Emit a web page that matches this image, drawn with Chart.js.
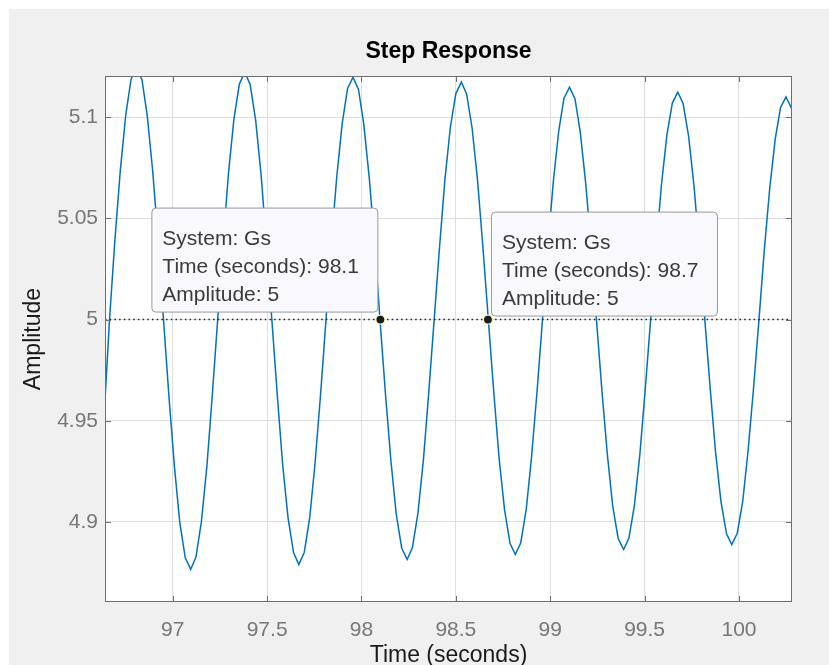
<!DOCTYPE html>
<html>
<head>
<meta charset="utf-8">
<title>Step Response</title>
<script src="https://cdn.jsdelivr.net/npm/chart.js@4.4.1/dist/chart.umd.min.js"></script>
<style>
  html, body { margin: 0; padding: 0; background: #fff; }
  #wrap { position: absolute; left: 9px; top: 9px; width: 820px; height: 656px; background: #f0f0f0; }
  canvas { display: block; }
</style>
</head>
<body>
<div id="wrap"><canvas id="stepChart" width="820" height="656"></canvas></div>
<script>
// step response of Gs, sampled output (seconds / amplitude)
const times = [
  96.607, 96.636, 96.665, 96.693, 96.722, 96.751, 96.779,
  96.808, 96.837, 96.865, 96.894, 96.923, 96.951, 96.980, 97.009, 97.037, 97.066,
  97.095, 97.123, 97.152, 97.181, 97.209, 97.238, 97.267, 97.295, 97.324, 97.353,
  97.382, 97.410, 97.439, 97.468, 97.496, 97.525, 97.554, 97.582, 97.611, 97.640,
  97.668, 97.697, 97.726, 97.754, 97.783, 97.812, 97.840, 97.869, 97.898, 97.926,
  97.955, 97.984, 98.012, 98.041, 98.070, 98.098, 98.127, 98.156, 98.184, 98.213,
  98.242, 98.270, 98.299, 98.328, 98.356, 98.385, 98.414, 98.442, 98.471, 98.500,
  98.529, 98.557, 98.586, 98.615, 98.643, 98.672, 98.701, 98.729, 98.758, 98.787,
  98.815, 98.844, 98.873, 98.901, 98.930, 98.959, 98.987, 99.016, 99.045, 99.073,
  99.102, 99.131, 99.159, 99.188, 99.217, 99.245, 99.274, 99.303, 99.331, 99.360,
  99.389, 99.417, 99.446, 99.475, 99.503, 99.532, 99.561, 99.589, 99.618, 99.647,
  99.676, 99.704, 99.733, 99.762, 99.790, 99.819, 99.848, 99.876, 99.905, 99.934,
  99.962, 99.991, 100.020, 100.048, 100.077, 100.106, 100.134, 100.163, 100.192, 100.220,
  100.249, 100.278, 100.306
];
const amplitude = [
  4.9262, 4.9520, 5.0000, 5.0387, 5.0736, 5.1011, 5.1188,
  5.1248, 5.1185, 5.1007, 5.0731, 5.0384, 5.0000, 4.9617, 4.9272, 4.8999, 4.8824,
  4.8765, 4.8826, 4.9003, 4.9276, 4.9620, 5.0000, 5.0379, 5.0721, 5.0991, 5.1164,
  5.1223, 5.1162, 5.0987, 5.0717, 5.0376, 5.0000, 4.9624, 4.9286, 4.9019, 4.8848,
  4.8789, 4.8850, 4.9023, 4.9291, 4.9627, 5.0000, 5.0372, 5.0707, 5.0971, 5.1141,
  5.1198, 5.1138, 5.0967, 5.0702, 5.0369, 5.0000, 4.9632, 4.9301, 4.9039, 4.8871,
  4.8814, 4.8873, 4.9043, 4.9305, 4.9635, 5.0000, 5.0364, 5.0692, 5.0952, 5.1117,
  5.1174, 5.1115, 5.0947, 5.0688, 5.0361, 5.0000, 4.9640, 4.9315, 4.9059, 4.8894,
  4.8839, 4.8897, 4.9063, 4.9320, 4.9643, 5.0000, 5.0357, 5.0678, 5.0932, 5.1094,
  5.1149, 5.1092, 5.0928, 5.0673, 5.0354, 5.0000, 4.9647, 4.9330, 4.9078, 4.8918,
  4.8863, 4.8920, 4.9082, 4.9334, 4.9650, 5.0000, 5.0349, 5.0663, 5.0912, 5.1070,
  5.1124, 5.1068, 5.0908, 5.0659, 5.0346, 5.0000, 4.9655, 4.9344, 4.9098, 4.8941,
  4.8888, 4.8944, 4.9102, 4.9349, 4.9658, 5.0000, 5.0341, 5.0649, 5.0892, 5.1047,
  5.1100, 5.1045, 5.0888
];
const steadyState = 5;

const xLimits = [96.641, 100.281];
const yLimits = [4.8604, 5.1204];
const xTickValues = [97, 97.5, 98, 98.5, 99, 99.5, 100];
const yTickValues = [4.9, 4.95, 5, 5.05, 5.1];

// data tips pinned on the response
const systemName = "Gs";
const tipTimes = [98.1, 98.67];
const tipAmplitudes = [5, 5];

const FONT = "'Liberation Sans', Arial, Helvetica, sans-serif";
const fmt = v => String(Number(v.toFixed(1)));

function roundRect(ctx, x, y, w, h, r) {
    ctx.beginPath();
    ctx.moveTo(x + r, y);
    ctx.lineTo(x + w - r, y);
    ctx.quadraticCurveTo(x + w, y, x + w, y + r);
    ctx.lineTo(x + w, y + h - r);
    ctx.quadraticCurveTo(x + w, y + h, x + w - r, y + h);
    ctx.lineTo(x + r, y + h);
    ctx.quadraticCurveTo(x, y + h, x, y + h - r);
    ctx.lineTo(x, y + r);
    ctx.quadraticCurveTo(x, y, x + r, y);
    ctx.closePath();
}

const matlabAxes = {
    id: "matlabAxes",
    beforeDraw(chart) {
        const { ctx, chartArea: a } = chart;
        ctx.save();
        ctx.fillStyle = "#ffffff";
        ctx.fillRect(a.left, a.top, a.right - a.left, a.bottom - a.top);
        ctx.restore();
    },
    afterDatasetDraw(chart, args) {
        // tip boxes go above the curve but below the tip markers
        if (args.index !== 1) return;
        const { ctx } = chart;
        const xs = chart.scales.x, ys = chart.scales.y;
        const w = 226, h = 104;
        ctx.save();
        tipTimes.forEach((t, i) => {
            const px = xs.getPixelForValue(t);
            const py = ys.getPixelForValue(tipAmplitudes[i]);
            const left = i === 0 ? px - 3 - w : px + 3;
            const top = i === 0 ? py - 8 - h : py - 4 - h;
            roundRect(ctx, left + 0.5, top + 0.5, w, h, 4);
            ctx.fillStyle = "#f8f8fd";
            ctx.fill();
            ctx.strokeStyle = "#9a9a9a";
            ctx.lineWidth = 1;
            ctx.stroke();
            ctx.fillStyle = "#3a3a3a";
            ctx.font = "21px " + FONT;
            ctx.textAlign = "left";
            ctx.textBaseline = "alphabetic";
            const lines = [
                "System: " + systemName,
                "Time (seconds): " + fmt(t),
                "Amplitude: " + fmt(tipAmplitudes[i])
            ];
            lines.forEach((s, k) => ctx.fillText(s, left + 11, top + 37 + k * 28));
        });
        ctx.restore();
    },
    afterDraw(chart) {
        const { ctx, chartArea: a } = chart;
        const xs = chart.scales.x, ys = chart.scales.y;
        ctx.save();
        // box around the axes with inward ticks on every side
        ctx.strokeStyle = "#6f6f6f";
        ctx.lineWidth = 1;
        ctx.strokeRect(a.left + 0.5, a.top + 0.5, a.right - a.left - 1, a.bottom - a.top - 1);
        ctx.beginPath();
        xTickValues.forEach(v => {
            const x = Math.round(xs.getPixelForValue(v)) + 0.5;
            ctx.moveTo(x, a.bottom); ctx.lineTo(x, a.bottom - 6);
            ctx.moveTo(x, a.top); ctx.lineTo(x, a.top + 6);
        });
        yTickValues.forEach(v => {
            const y = Math.round(ys.getPixelForValue(v)) + 0.5;
            ctx.moveTo(a.left, y); ctx.lineTo(a.left + 6, y);
            ctx.moveTo(a.right, y); ctx.lineTo(a.right - 6, y);
        });
        ctx.stroke();
        // title, centred over the axes
        ctx.fillStyle = "#000";
        ctx.font = "bold 23px " + FONT;
        ctx.textAlign = "center";
        ctx.textBaseline = "alphabetic";
        ctx.fillText("Step Response", (a.left + a.right) / 2, 49);
        ctx.restore();
    }
};

const tickFont = { family: FONT, size: 21 };
const labelFont = { family: FONT, size: 23, lineHeight: 1 };

new Chart(document.getElementById("stepChart"), {
    type: "line",
    data: {
        datasets: [
            {
                label: "tips",
                data: tipTimes.map((t, i) => ({ x: t, y: tipAmplitudes[i] })),
                showLine: false,
                pointRadius: 4.5,
                pointBackgroundColor: "#1c1c1c",
                pointBorderColor: "#f3f0b5",
                pointBorderWidth: 1.2,
                order: 1
            },
            {
                label: "steady state",
                data: [{ x: xLimits[0], y: steadyState }, { x: xLimits[1], y: steadyState }],
                borderColor: "#222",
                borderWidth: 1.5,
                borderDash: [1.5, 3.2],
                pointRadius: 0,
                order: 2
            },
            {
                label: systemName,
                data: times.map((t, i) => ({ x: t, y: amplitude[i] })),
                borderColor: "#0072BD",
                borderWidth: 1.5,
                pointRadius: 0,
                tension: 0,
                clip: 0,
                order: 3
            }
        ]
    },
    options: {
        responsive: false,
        animation: false,
        events: [],
        layout: { padding: { top: 67, right: 37, left: 0, bottom: 0 } },
        plugins: {
            legend: { display: false },
            tooltip: { enabled: false }
        },
        scales: {
            x: {
                type: "linear",
                min: xLimits[0],
                max: xLimits[1],
                afterBuildTicks: s => { s.ticks = xTickValues.map(v => ({ value: v })); },
                afterFit: s => { s.height = 63; },
                grid: { color: "#dfdfdf", drawTicks: false },
                border: { display: false },
                ticks: {
                    font: tickFont,
                    color: "#777",
                    padding: 16,
                    maxRotation: 0,
                    autoSkip: false,
                    callback: v => String(v)
                },
                title: {
                    display: true,
                    text: "Time (seconds)",
                    font: labelFont,
                    color: "#1a1a1a",
                    padding: { top: 0, bottom: -2 }
                }
            },
            y: {
                type: "linear",
                min: yLimits[0],
                max: yLimits[1],
                afterBuildTicks: s => { s.ticks = yTickValues.map(v => ({ value: v })); },
                afterFit: s => { s.width = 96; },
                grid: { color: "#dfdfdf", drawTicks: false },
                border: { display: false },
                ticks: {
                    font: tickFont,
                    color: "#777",
                    padding: 7,
                    autoSkip: false,
                    callback: v => String(v)
                },
                title: {
                    display: true,
                    text: "Amplitude",
                    font: labelFont,
                    color: "#1a1a1a",
                    padding: { top: 13, bottom: 0 }
                }
            }
        }
    },
    plugins: [matlabAxes]
});
</script>
</body>
</html>
